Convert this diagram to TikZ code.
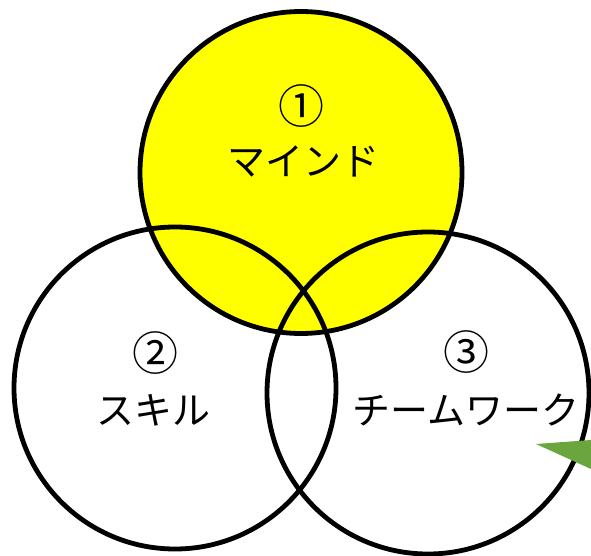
\documentclass[tikz,border=0pt]{standalone}
\usepackage{fontspec}
\setmainfont{Noto Sans CJK JP}
\begin{document}
\begin{tikzpicture}[x=1pt,y=-1pt,
  ring/.style={circle,draw=black,line width=4.8pt,minimum size=322pt,inner sep=0pt},
  lbl/.style={font=\fontsize{38}{42}\selectfont,inner sep=0pt,align=center},
  num/.style={font=\fontsize{46}{48}\selectfont,inner sep=0pt}]
  \definecolor{vyellow}{RGB}{255,255,0}
  \definecolor{vgreen}{RGB}{106,165,62}
  \useasboundingbox (0,0) rectangle (591,556);
  \node[ring,fill=vyellow] (mind) at (301,172.5) {};
  \node[ring] (skill) at (175,388) {};
  \node[ring] (team) at (428,393) {};
  \node[num] (n1) at (301,106) {①};
  \node[lbl] (t1) at (303,161) {マインド};
  \node[num] (n2) at (155,353) {②};
  \node[lbl] (t2) at (153,410) {スキル};
  \node[num] (n3) at (466,352) {③};
  \node[lbl] (t3) at (466,410) {チームワーク};
  \coordinate (g1) at (536,444);
  \coordinate (g2) at (591,440);
  \coordinate (g3) at (591,469);
  \fill[vgreen] (g1) -- (g2) -- (g3) -- cycle;
\end{tikzpicture}
\end{document}
